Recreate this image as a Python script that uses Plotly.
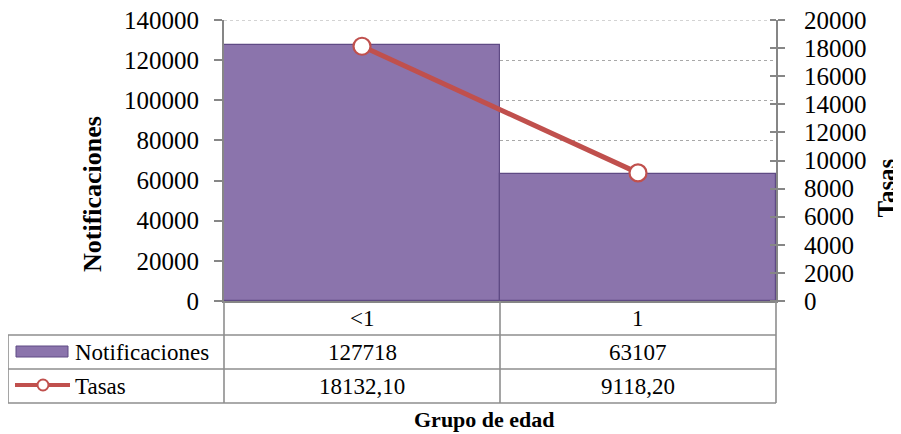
import plotly.graph_objects as go

categorias = ["<1", "1"]
notificaciones = [127718, 63107]
tasas = [18132.10, 9118.20]
serie_barras = "Notificaciones"
serie_linea = "Tasas"
titulo_x = "Grupo de edad"
rango_notif = [0, 140000]
rango_tasas = [0, 20000]

FONT = "Liberation Serif"
# the page body adds an 8px offset; work in screen pixels and subtract it
OFF = 8
SW, SH = 901, 434
W, H = SW - OFF, SH - OFF
# plot area in screen pixels
PX0, PX1, PY0, PY1 = 224, 776, 20, 301
L, R = PX0 - OFF, W - (PX1 - OFF)
T, B = PY0 - OFF, H - (PY1 - OFF)
PW, PH = PX1 - PX0, PY1 - PY0

def px(xs):
    return (xs - PX0) / PW

def py(ys):
    return (PY1 - ys) / PH

BAR_FILL = "#8B74AC"
BAR_LINE = "#5F4A84"
RED = "#C0504D"
GRID = "#A8A8A8"
AXIS = "#868686"
TABLE = "#8E8E8E"

fig = go.Figure()
fig.add_trace(go.Bar(
    x=categorias, y=notificaciones, name=serie_barras,
    marker=dict(color=BAR_FILL, line=dict(color=BAR_LINE, width=1.2)),
    yaxis="y",
))
fig.add_trace(go.Scatter(
    x=categorias, y=tasas, name=serie_linea, mode="lines+markers",
    line=dict(color=RED, width=5),
    marker=dict(size=17, color="white", line=dict(color=RED, width=2.2)),
    yaxis="y2",
))

shapes = []
# top gridline (plotly omits grid at the range edge)
shapes.append(dict(type="line", xref="paper", yref="y", x0=0, x1=1,
                   y0=rango_notif[1], y1=rango_notif[1], layer="below",
                   line=dict(color=GRID, width=1, dash="dot")))

def line(x0, y0, x1, y1, color=TABLE, width=1.6):
    shapes.append(dict(type="line", xref="paper", yref="paper",
                       x0=px(x0), y0=py(y0), x1=px(x1), y1=py(y1),
                       line=dict(color=color, width=width), layer="above"))

row_y = [301, 335, 369, 403]
col_x = [224, 500, 776]
for yv in row_y[1:]:
    line(8, yv, 776, yv)
for xv in col_x:
    line(xv, 301, xv, 403)
line(8, 335, 8, 403)

# legend keys
shapes.append(dict(type="rect", xref="paper", yref="paper",
                   x0=px(16), x1=px(68), y0=py(346), y1=py(357),
                   fillcolor=BAR_FILL, line=dict(color=BAR_LINE, width=1)))
shapes.append(dict(type="line", xref="paper", yref="paper",
                   x0=px(15), x1=px(70), y0=py(385), y1=py(385),
                   line=dict(color=RED, width=4)))
shapes.append(dict(type="circle", xref="paper", yref="paper",
                   x0=px(37.5), x1=px(48.5), y0=py(379.5), y1=py(390.5),
                   fillcolor="white", line=dict(color=RED, width=2)))

annotations = []
def txt(x, y, s, size=23, xanchor="center", yanchor="middle", bold=False,
        angle=0, xref="paper"):
    annotations.append(dict(
        x=x, y=py(y), xref=xref, yref="paper", text=s, showarrow=False,
        xanchor=xanchor, yanchor=yanchor, textangle=angle,
        font=dict(family=FONT, size=size, color="#000000",
                  weight="bold" if bold else "normal")))

for i, c in enumerate(categorias):
    txt(c, 318, c.replace("<", "&lt;"), xref="x")
    txt(c, 352, str(notificaciones[i]), xref="x")
    txt(c, 386, f"{tasas[i]:.2f}".replace(".", ","), xref="x")

txt(px(73), 352, serie_barras, xanchor="left")
txt(px(73), 386, serie_linea, xanchor="left")
txt(px(484), 434, titulo_x, size=22, bold=True, yanchor="bottom")
txt(px(92), 194, serie_barras, size=26, bold=True, angle=-90)
txt(px(901), 188, serie_linea, size=25, bold=True, angle=-90, xanchor="right")

tick_common = dict(ticklabeloverflow="allow", automargin=False,
                   showline=True, linecolor=AXIS, linewidth=2,
                   tickcolor=AXIS, tickwidth=2, zeroline=False,
                   tickformat="d", tickfont=dict(family=FONT, size=25))

fig.update_layout(
    width=W, height=H,
    margin=dict(l=L, r=R, t=T, b=B, pad=0, autoexpand=False),
    paper_bgcolor="white", plot_bgcolor="white",
    bargap=0, showlegend=False,
    font=dict(family=FONT, size=25, color="#000000"),
    xaxis=dict(type="category", range=[-0.5, 1.5], showticklabels=False,
               showline=True, linecolor=AXIS, linewidth=2, ticks="",
               showgrid=False, zeroline=False, fixedrange=True,
               automargin=False),
    yaxis=dict(range=rango_notif, dtick=20000,
               ticks="outside", ticklen=8, ticklabelstandoff=10,
               showgrid=True, gridcolor=GRID, griddash="dot", gridwidth=1,
               **tick_common),
    yaxis2=dict(range=rango_tasas, dtick=2000,
                overlaying="y", side="right",
                ticks="outside", ticklen=7,
                minor=dict(ticks="inside", dtick=2000, ticklen=6,
                           tickcolor=AXIS, tickwidth=2, showgrid=False),
                ticklabelstandoff=14, showgrid=False,
                **tick_common),
    shapes=shapes, annotations=annotations,
)

fig.write_html("out.html")
